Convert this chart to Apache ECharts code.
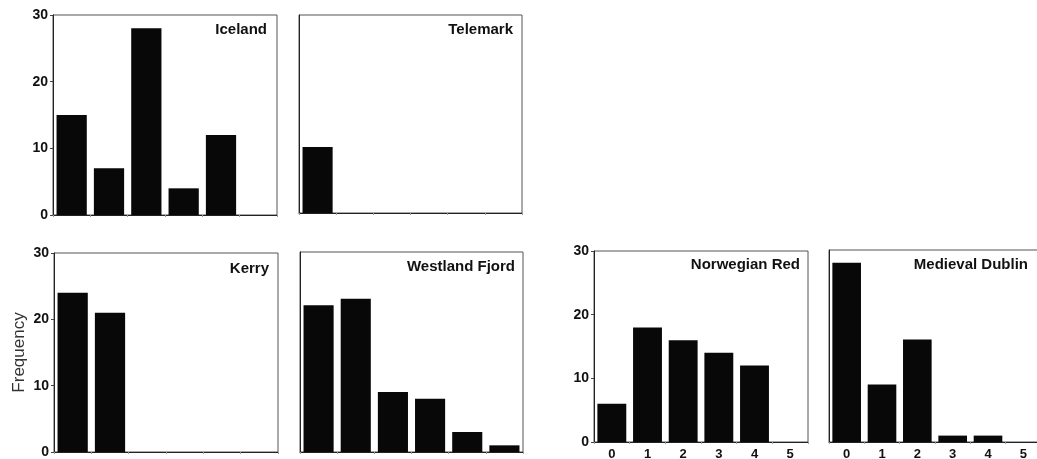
<!DOCTYPE html>
<html>
<head>
<meta charset="utf-8">
<script src="https://cdn.jsdelivr.net/npm/echarts@6/dist/echarts.min.js"></script>
<style>
html,body{margin:0;padding:0;background:#fff;}
#chart{width:1037px;height:459px;}
</style>
</head>
<body>
<div id="chart"></div>
<script>
// Data
const categories = ['0', '1', '2', '3', '4', '5'];
const yTicks = [0, 10, 20, 30];
const iceland = [15, 7, 28, 4, 12, 0];
const telemark = [10, 0, 0, 0, 0, 0];
const kerry = [24, 21, 0, 0, 0, 0];
const westlandFjord = [22, 23, 9, 8, 3, 1];
const norwegianRed = [6, 18, 16, 14, 12, 0];
const medievalDublin = [28, 9, 16, 1, 1, 0];
const panelNames = ['Iceland', 'Telemark', 'Kerry', 'Westland Fjord', 'Norwegian Red', 'Medieval Dublin'];
const panelData = [iceland, telemark, kerry, westlandFjord, norwegianRed, medievalDublin];

// Layout (pixels)
const grids = [
  {left: 53, top: 15, width: 224, height: 200},
  {left: 299, top: 15, width: 223, height: 198},
  {left: 54, top: 253, width: 224, height: 199},
  {left: 300, top: 252, width: 223, height: 200},
  {left: 594, top: 251, width: 214, height: 191},
  {left: 829, top: 250, width: 212, height: 192}
];
const showY = [true, false, true, false, true, false];
const showX = [false, false, false, false, true, true];
const titleRight = [770, 524, 768, 522, 237, 9];
const titleTop = [22, 22, 261, 259, 257, 257];

const FONT = '"Liberation Sans", Arial, sans-serif';

const option = {
  animation: false,
  backgroundColor: '#ffffff',
  title: panelNames.map((n, i) => ({
    text: n,
    right: titleRight[i],
    top: titleTop[i],
    padding: 0,
    textStyle: {fontFamily: FONT, fontWeight: 'bold', fontSize: 15, color: '#111'}
  })),
  grid: grids.map(g => Object.assign({show: true, borderColor: '#555', borderWidth: 1, backgroundColor: 'transparent', containLabel: false, outerBoundsMode: 'none'}, g)),
  xAxis: grids.map((g, i) => ({
    type: 'category',
    gridIndex: i,
    data: categories,
    axisLine: {show: true, lineStyle: {color: '#222', width: 1}},
    axisTick: {show: true, length: 2, lineStyle: {color: '#999'}},
    axisLabel: {show: showX[i], margin: 6, fontFamily: FONT, fontWeight: 'bold', fontSize: 13, color: '#111'}
  })),
  yAxis: grids.map((g, i) => ({
    type: 'value',
    gridIndex: i,
    min: yTicks[0],
    max: yTicks[yTicks.length - 1],
    interval: 10,
    splitLine: {show: false},
    axisLine: {show: true, lineStyle: {color: '#222', width: 1}},
    axisTick: {show: showY[i], length: 3, lineStyle: {color: '#444'}},
    axisLabel: {show: showY[i], margin: 5, fontFamily: FONT, fontWeight: 'bold', fontSize: 14, color: '#111'},
    name: i === 2 ? 'Frequency' : '',
    nameLocation: 'middle',
    nameRotate: 90,
    nameGap: 26,
    nameTextStyle: {fontFamily: FONT, fontSize: 17, color: '#333'}
  })),
  series: panelData.map((d, i) => ({
    type: 'bar',
    xAxisIndex: i,
    yAxisIndex: i,
    data: d,
    barCategoryGap: '19%',
    itemStyle: {color: '#080808'}
  }))
};

const chart = echarts.init(document.getElementById('chart'), null, {renderer: 'canvas'});
chart.setOption(option);
</script>
</body>
</html>
